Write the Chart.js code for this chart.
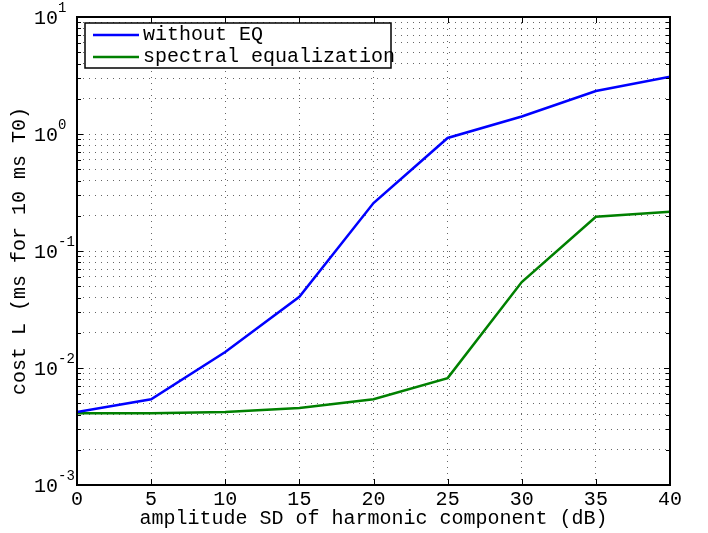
<!DOCTYPE html>
<html>
<head>
<meta charset="utf-8">
<script src="https://cdn.jsdelivr.net/npm/chart.js@4/dist/chart.umd.min.js"></script>
<style>
  html, body { margin: 0; padding: 0; background: #fff; }
  #wrap { width: 708px; height: 533px; }
</style>
</head>
<body>
<div id="wrap"><canvas id="c" width="708" height="533"></canvas></div>
<script>
// Harmonic component amplitude spread (dB)
const xValues = [0, 5, 10, 15, 20, 25, 30, 35, 40];
// Cost L in ms for a 10 ms T0
const withoutEQ = [0.0042, 0.0054, 0.0137, 0.0406, 0.257, 0.925, 1.41, 2.33, 3.09];
const spectralEQ = [0.0041, 0.0041, 0.0042, 0.00455, 0.0054, 0.0082, 0.0543, 0.196, 0.217];
const seriesLabels = ['without EQ', 'spectral equalization'];
const xTickValues = [0, 5, 10, 15, 20, 25, 30, 35, 40];
const yExponents = [-3, -2, -1, 0, 1];
const xTitle = 'amplitude SD of harmonic component (dB)';
const yTitle = 'cost L (ms for 10 ms T0)';

const FONT = '"Liberation Mono", "Courier New", monospace';
const FS = 20;
const toPoints = ys => xValues.map((x, i) => ({ x: x, y: ys[i] }));

const frame = {
  id: 'frame',
  afterDraw(chart) {
    const ctx = chart.ctx;
    const a = chart.chartArea;
    const xs = chart.scales.x, ys = chart.scales.y;
    ctx.save();
    ctx.strokeStyle = '#000';
    ctx.lineWidth = 1;
    // tick marks, pointing inward on all four sides
    ctx.beginPath();
    xTickValues.forEach(v => {
      const px = Math.round(xs.getPixelForValue(v)) + 0.5;
      ctx.moveTo(px, a.bottom); ctx.lineTo(px, a.bottom - 6);
      ctx.moveTo(px, a.top); ctx.lineTo(px, a.top + 6);
    });
    for (let e = -3; e < 1; e++) {
      for (let m = 1; m <= 9; m++) {
        const py = Math.round(ys.getPixelForValue(m * Math.pow(10, e))) + 0.5;
        const len = m === 1 ? 6 : 4;
        ctx.moveTo(a.left, py); ctx.lineTo(a.left + len, py);
        ctx.moveTo(a.right, py); ctx.lineTo(a.right - len, py);
      }
    }
    ctx.stroke();
    // axes box
    ctx.lineWidth = 2;
    ctx.strokeRect(a.left, a.top, a.right - a.left, a.bottom - a.top);

    ctx.fillStyle = '#000';
    // x tick labels
    ctx.font = FS + 'px ' + FONT;
    ctx.textAlign = 'center';
    ctx.textBaseline = 'middle';
    xTickValues.forEach(v => {
      ctx.fillText(String(v), xs.getPixelForValue(v), a.bottom + 15);
    });
    // y tick labels: 10 with raised exponent
    yExponents.forEach(e => {
      const py = ys.getPixelForValue(Math.pow(10, e));
      ctx.font = FS + 'px ' + FONT;
      ctx.textAlign = 'left';
      ctx.textBaseline = 'middle';
      ctx.fillText('10', 34, py + 2);
      ctx.font = '14px ' + FONT;
      ctx.fillText(String(e), 58, py - 9);
    });
    // axis titles
    ctx.font = FS + 'px ' + FONT;
    ctx.textAlign = 'center';
    ctx.textBaseline = 'middle';
    ctx.fillText(xTitle, (a.left + a.right) / 2, a.bottom + 34);
    ctx.save();
    ctx.translate(20, (a.top + a.bottom) / 2);
    ctx.rotate(-Math.PI / 2);
    ctx.fillText(yTitle, 0, 0);
    ctx.restore();

    // legend
    const lx = 85, ly = 23, lw = 306, lh = 45;
    ctx.fillStyle = '#fff';
    ctx.fillRect(lx, ly, lw, lh);
    ctx.lineWidth = 1.5;
    ctx.strokeStyle = '#000';
    ctx.strokeRect(lx, ly, lw, lh);
    chart.data.datasets.forEach((ds, i) => {
      const yy = ly + 12 + i * 22;
      ctx.strokeStyle = ds.borderColor;
      ctx.lineWidth = 2.5;
      ctx.beginPath();
      ctx.moveTo(93, yy); ctx.lineTo(139, yy);
      ctx.stroke();
      ctx.fillStyle = '#000';
      ctx.font = FS + 'px ' + FONT;
      ctx.textAlign = 'left';
      ctx.textBaseline = 'middle';
      ctx.fillText(ds.label, 143, yy);
    });
    ctx.restore();
  }
};

const gridStyle = { drawTicks: false, color: 'rgba(0,0,0,0.6)', lineWidth: 1 };
const borderStyle = { display: false, dash: [1, 5] };

new Chart(document.getElementById('c'), {
  type: 'line',
  data: {
    datasets: [
      { label: seriesLabels[0], data: toPoints(withoutEQ), borderColor: '#0000ff', borderWidth: 2.5, pointRadius: 0, tension: 0, fill: false },
      { label: seriesLabels[1], data: toPoints(spectralEQ), borderColor: '#008000', borderWidth: 2.5, pointRadius: 0, tension: 0, fill: false }
    ]
  },
  options: {
    responsive: false,
    animation: false,
    events: [],
    layout: { padding: { left: 77, top: 17, right: 38, bottom: 48 } },
    plugins: { legend: { display: false }, tooltip: { enabled: false } },
    scales: {
      x: {
        type: 'linear', min: 0, max: 40,
        afterBuildTicks: s => { s.ticks = xTickValues.map(v => ({ value: v })); },
        ticks: { display: false },
        border: borderStyle,
        grid: gridStyle,
        title: { display: false }
      },
      y: {
        type: 'logarithmic', min: 0.001, max: 10,
        afterBuildTicks: s => {
          const t = [];
          for (let e = -3; e < 1; e++) for (let m = 1; m <= 9; m++) t.push({ value: m * Math.pow(10, e) });
          t.push({ value: 10 });
          s.ticks = t;
        },
        ticks: { display: false },
        border: borderStyle,
        grid: gridStyle,
        title: { display: false }
      }
    }
  },
  plugins: [frame]
});
</script>
</body>
</html>
